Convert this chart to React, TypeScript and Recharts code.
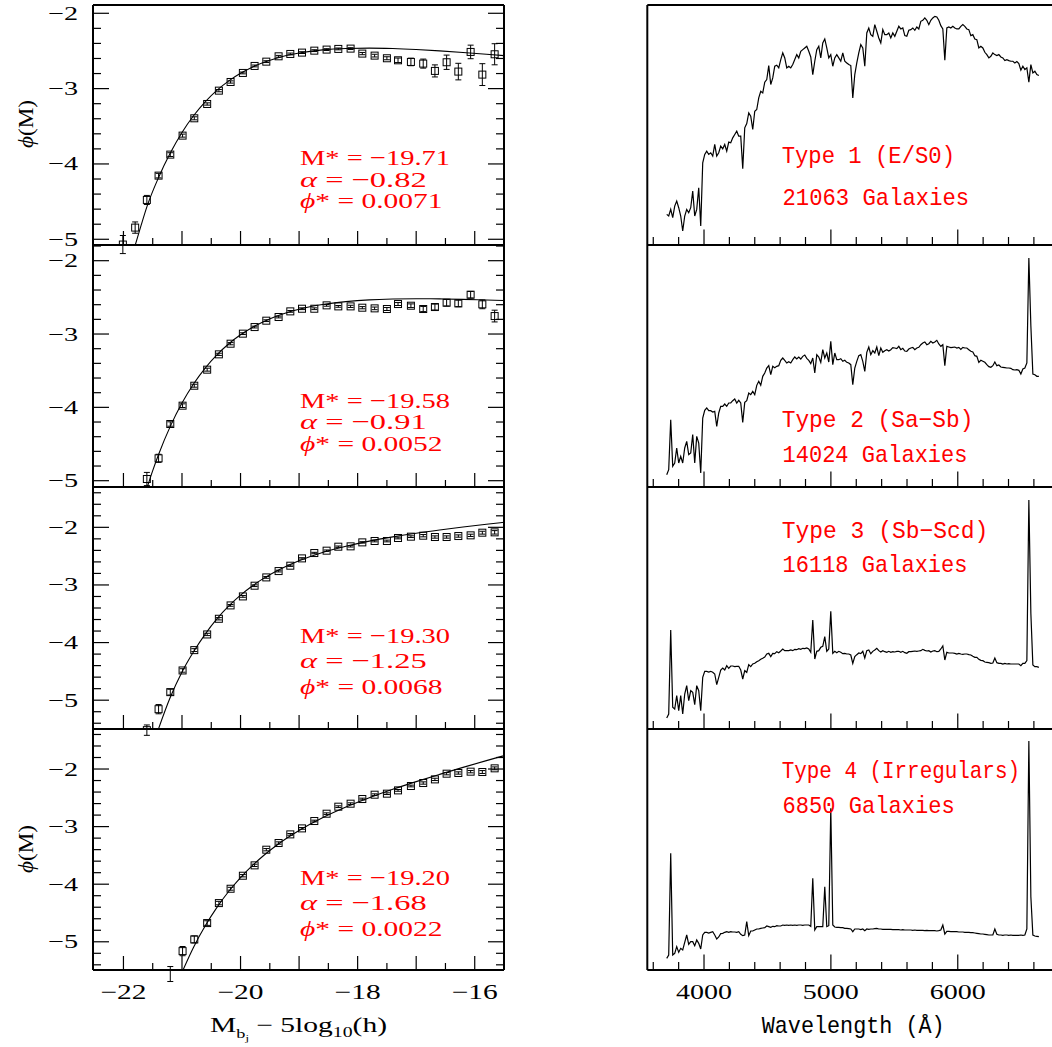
import React from "react";
import { ComposedChart, Line, Scatter, XAxis, YAxis, ErrorBar } from "recharts";

const SERIF = "'Liberation Serif', 'DejaVu Serif', serif";
const MONO = "'Liberation Mono', 'DejaVu Sans Mono', monospace";
const RED = "#ff0000";

// ---------------- Luminosity function data ----------------
const MAG_BINS = [-22.01, -21.8, -21.6, -21.4, -21.2, -20.99, -20.79, -20.57, -20.37, -20.17, -19.96, -19.76, -19.56, -19.35, -19.15, -18.95, -18.74, -18.53, -18.33, -18.12, -17.92, -17.71, -17.5, -17.31, -17.09, -16.88, -16.68, -16.48, -16.28, -16.07, -15.87, -15.66];

const LOGPHI_T1 = [-5.07, -4.845, -4.478, -4.155, -3.876, -3.624, -3.394, -3.204, -3.027, -2.912, -2.792, -2.699, -2.642, -2.571, -2.54, -2.522, -2.496, -2.482, -2.473, -2.469, -2.535, -2.562, -2.597, -2.624, -2.646, -2.668, -2.765, -2.65, -2.774, -2.513, -2.814, -2.544];
const ERR_T1 = [0.12, 0.075, 0.06, 0.03, 0.025, 0.02, 0.02, 0.015, 0.015, 0.015, 0.012, 0.012, 0.012, 0.012, 0.012, 0.012, 0.012, 0.012, 0.012, 0.012, 0.015, 0.018, 0.02, 0.03, 0.05, 0.06, 0.08, 0.095, 0.11, 0.09, 0.145, 0.14];

const LOGPHI_T2 = [null, null, -4.977, -4.695, -4.227, -3.977, -3.705, -3.486, -3.277, -3.132, -2.995, -2.905, -2.818, -2.768, -2.691, -2.655, -2.655, -2.609, -2.623, -2.623, -2.641, -2.65, -2.659, -2.591, -2.614, -2.659, -2.632, -2.573, -2.582, -2.464, -2.595, -2.755];
const ERR_T2 = [null, null, 0.09, 0.055, 0.03, 0.025, 0.02, 0.02, 0.015, 0.015, 0.012, 0.012, 0.012, 0.012, 0.012, 0.012, 0.012, 0.012, 0.012, 0.015, 0.015, 0.018, 0.02, 0.02, 0.025, 0.035, 0.04, 0.045, 0.045, 0.045, 0.06, 0.08];

const LOGPHI_T3 = [null, null, -5.52, -5.156, -4.86, -4.484, -4.131, -3.859, -3.587, -3.355, -3.199, -3.013, -2.869, -2.759, -2.666, -2.539, -2.446, -2.405, -2.336, -2.33, -2.261, -2.237, -2.237, -2.185, -2.162, -2.145, -2.168, -2.168, -2.151, -2.139, -2.093, -2.087];
const ERR_T3 = [null, null, 0.09, 0.08, 0.05, 0.03, 0.025, 0.02, 0.02, 0.015, 0.015, 0.015, 0.015, 0.015, 0.012, 0.012, 0.012, 0.012, 0.012, 0.012, 0.012, 0.015, 0.015, 0.015, 0.015, 0.02, 0.02, 0.02, 0.02, 0.02, 0.025, 0.03];

const LOGPHI_T4 = [null, null, null, null, -5.56, -5.162, -4.959, -4.675, -4.328, -4.079, -3.853, -3.673, -3.401, -3.285, -3.135, -3.031, -2.903, -2.776, -2.654, -2.602, -2.521, -2.446, -2.428, -2.371, -2.295, -2.243, -2.18, -2.081, -2.069, -2.046, -2.052, -1.988];
const ERR_T4 = [null, null, null, null, 0.13, 0.08, 0.06, 0.04, 0.03, 0.025, 0.02, 0.02, 0.02, 0.02, 0.015, 0.015, 0.015, 0.015, 0.015, 0.015, 0.015, 0.015, 0.015, 0.015, 0.015, 0.02, 0.02, 0.02, 0.02, 0.02, 0.025, 0.025];

const FIT_T1_MAG = [-21.84, -21.7, -21.6, -21.4, -21.2, -21.0, -20.8, -20.6, -20.4, -20.2, -20.0, -19.8, -19.6, -19.4, -19.2, -19.0, -18.6, -18.2, -17.8, -17.4, -17.0, -16.6, -16.2, -15.8, -15.5];
const FIT_T1_LOGPHI = [-5.185, -4.82, -4.57, -4.18, -3.856, -3.582, -3.357, -3.172, -3.02, -2.897, -2.796, -2.715, -2.65, -2.599, -2.558, -2.527, -2.486, -2.467, -2.462, -2.468, -2.481, -2.499, -2.52, -2.543, -2.562];

const FIT_T2_MAG = [-21.62, -21.5, -21.4, -21.2, -21.0, -20.8, -20.6, -20.4, -20.2, -20.0, -19.8, -19.6, -19.4, -19.2, -19.0, -18.6, -18.2, -17.8, -17.4, -17.0, -16.6, -16.2, -15.8, -15.5];
const FIT_T2_LOGPHI = [-5.155, -4.862, -4.642, -4.259, -3.941, -3.678, -3.461, -3.281, -3.132, -3.01, -2.91, -2.828, -2.76, -2.706, -2.661, -2.597, -2.558, -2.534, -2.523, -2.519, -2.521, -2.527, -2.536, -2.543];

const FIT_T3_MAG = [-21.42, -21.2, -21.0, -20.8, -20.6, -20.4, -20.2, -20.0, -19.8, -19.6, -19.4, -19.2, -19.0, -18.6, -18.2, -17.8, -17.4, -17.0, -16.6, -16.2, -15.8, -15.5];
const FIT_T3_LOGPHI = [-5.552, -4.95, -4.51, -4.155, -3.848, -3.586, -3.365, -3.177, -3.018, -2.882, -2.766, -2.666, -2.58, -2.438, -2.328, -2.239, -2.166, -2.102, -2.046, -1.995, -1.947, -1.913];

const FIT_T4_MAG = [-21.02, -20.8, -20.6, -20.4, -20.2, -20.0, -19.8, -19.6, -19.4, -19.2, -19.0, -18.6, -18.2, -17.8, -17.4, -17.0, -16.6, -16.2, -15.8, -15.5];
const FIT_T4_LOGPHI = [-5.577, -5.09, -4.718, -4.398, -4.123, -3.885, -3.678, -3.497, -3.336, -3.194, -3.067, -2.847, -2.661, -2.499, -2.353, -2.219, -2.093, -1.971, -1.854, -1.768];

const LF_PARAMS = [
  { mstar: "\u221219.71", alpha: "\u22120.82", phistar: "0.0071" },
  { mstar: "\u221219.58", alpha: "\u22120.91", phistar: "0.0052" },
  { mstar: "\u221219.30", alpha: "\u22121.25", phistar: "0.0068" },
  { mstar: "\u221219.20", alpha: "\u22121.68", phistar: "0.0022" },
];

// ---------------- Composite spectra (relative flux, uniform wavelength grid) ----------------
const WAVE_START = 3706;
const WAVE_STEP = 15.77;

const SPEC_T1 = [
  92, 87, 107, 82, 117, 132, 112, 87, 42, 87,
  107, 97, 112, 162, 87, 107, 172, 57, 247, 272,
  282, 272, 277, 267, 302, 267, 277, 297, 289, 302,
  282, 309, 307, 322, 332, 342, 327, 327, 229, 352,
  365, 397, 387, 347, 402, 407, 442, 462, 457, 489,
  497, 539, 482, 502, 537, 540, 532, 557, 577, 562,
  532, 537, 532, 542, 557, 572, 562, 582, 587, 592,
  597, 582, 565, 512, 552, 587, 597, 562, 607, 619,
  592, 562, 572, 537, 562, 572, 562, 552, 577, 552,
  547, 542, 539, 442, 512, 547, 577, 602, 592, 537,
  637, 652, 632, 627, 662, 642, 622, 607, 647, 632,
  632, 637, 622, 637, 627, 642, 657, 649, 652, 629,
  627, 645, 647, 652, 645, 655, 649, 672, 675, 682,
  675, 662, 675, 682, 687, 685, 675, 659, 649, 555,
  652, 655, 652, 657, 652, 649, 649, 657, 662, 657,
  649, 647, 629, 632, 619, 617, 592, 597, 592, 579,
  572, 562, 567, 577, 572, 569, 572, 565, 562, 554,
  557, 554, 552, 552, 547, 551, 545, 525, 537, 527,
  532, 489, 542, 517, 522, 512, 509,
];

const SPEC_T2 = [
  37, 52, 202, 62, 72, 117, 72, 92, 72, 117,
  137, 97, 102, 157, 72, 152, 132, 42, 207, 230,
  237, 229, 229, 225, 227, 182, 222, 242, 242, 249,
  242, 252, 252, 259, 264, 252, 260, 252, 194, 254,
  259, 282, 277, 287, 277, 305, 317, 305, 332, 342,
  357, 364, 337, 362, 358, 362, 364, 380, 387, 380,
  372, 376, 372, 382, 390, 384, 390, 384, 392, 396,
  386, 380, 370, 387, 342, 397, 390, 374, 412, 387,
  402, 375, 437, 367, 402, 382, 382, 385, 377, 380,
  374, 372, 367, 307, 357, 377, 394, 397, 377, 347,
  404, 420, 397, 409, 402, 420, 394, 417, 404, 409,
  412, 408, 412, 418, 417, 415, 422, 412, 416, 408,
  407, 414, 417, 419, 412, 417, 419, 427, 432, 435,
  427, 430, 437, 432, 435, 440, 429, 422, 427, 364,
  422, 420, 418, 419, 420, 417, 419, 413, 419, 417,
  417, 412, 407, 405, 394, 392, 374, 380, 377, 374,
  367, 361, 359, 364, 375, 364, 366, 360, 359, 358,
  357, 357, 356, 352, 351, 352, 350, 339, 354, 357,
  372, 687, 484, 339, 337, 332, 332,
];

const SPEC_T3 = [
  33, 45, 297, 65, 60, 100, 55, 100, 45, 105,
  130, 85, 115, 110, 73, 130, 115, 55, 155, 173,
  173, 171, 173, 170, 165, 133, 155, 177, 183, 177,
  190, 182, 189, 189, 187, 188, 188, 177, 150, 175,
  170, 193, 187, 195, 197, 202, 205, 209, 212, 216,
  225, 227, 217, 227, 226, 232, 229, 234, 240, 235,
  235, 235, 237, 235, 239, 238, 241, 239, 242, 241,
  243, 240, 230, 327, 210, 233, 235, 245, 248, 277,
  233, 240, 353, 227, 233, 229, 233, 230, 226, 227,
  225, 225, 222, 197, 217, 223, 228, 226, 233, 213,
  235, 237, 226, 233, 237, 242, 235, 231, 235, 232,
  230, 233, 230, 232, 231, 233, 233, 230, 233, 229,
  227, 232, 232, 233, 234, 233, 234, 235, 239, 236,
  234, 235, 231, 234, 235, 232, 233, 240, 249, 207,
  230, 228, 228, 228, 227, 225, 227, 225, 224, 225,
  225, 223, 222, 218, 215, 215, 209, 206, 205, 201,
  200, 199, 197, 198, 213, 199, 197, 197, 195, 197,
  195, 196, 195, 195, 195, 195, 195, 190, 197, 197,
  205, 687, 347, 192, 187, 187, 185,
];

const SPEC_T4 = [
  35, 45, 350, 45, 50, 70, 53, 65, 60, 83,
  105, 77, 85, 85, 73, 90, 80, 63, 105, 113,
  113, 111, 113, 115, 105, 93, 99, 109, 110, 113,
  115, 113, 115, 114, 114, 113, 115, 107, 103, 105,
  145, 103, 117, 117, 120, 123, 123, 125, 126, 127,
  132, 130, 128, 131, 130, 133, 132, 132, 135, 134,
  135, 134, 135, 134, 135, 134, 135, 135, 134, 135,
  135, 135, 131, 275, 120, 130, 130, 130, 130, 250,
  130, 133, 485, 135, 129, 128, 128, 127, 127, 125,
  125, 124, 123, 115, 123, 123, 123, 121, 123, 118,
  123, 122, 123, 123, 124, 125, 123, 123, 122, 122,
  122, 122, 122, 121, 121, 121, 121, 120, 121, 120,
  120, 120, 120, 119, 120, 119, 119, 119, 119, 118,
  119, 118, 118, 118, 118, 117, 118, 120, 135, 108,
  116, 116, 115, 115, 115, 115, 114, 114, 114, 113,
  113, 113, 112, 112, 111, 110, 109, 108, 108, 107,
  106, 105, 105, 105, 123, 107, 105, 105, 104, 105,
  105, 104, 105, 104, 104, 104, 104, 105, 104, 105,
  123, 687, 220, 105, 102, 101, 100,
];

const SPEC_LABELS = [
  ["Type 1 (E/S0)", "21063 Galaxies"],
  ["Type 2 (Sa\u2212Sb)", "14024 Galaxies"],
  ["Type 3 (Sb\u2212Scd)", "16118 Galaxies"],
  ["Type 4 (Irregulars)", "6850 Galaxies"],
];

// ---------------- Layout ----------------
const ROWS = [
  { top: 5, bottom: 245 },
  { top: 245, bottom: 487 },
  { top: 487, bottom: 729 },
  { top: 729, bottom: 970 },
];
const LF_Y_DOMAINS: [number, number][] = [
  [-5.076, -1.89],
  [-5.086, -1.786],
  [-5.5, -1.3],
  [-5.49, -1.305],
];
const LF_X_DOMAIN: [number, number] = [-22.52, -15.5];
const SPEC_X_DOMAIN: [number, number] = [3553, 6753];
const SPEC_Y_MAX = [721, 726, 726, 723];

function range(a: number, b: number, step: number) {
  const out: number[] = [];
  const n = Math.round((b - a) / step);
  for (let i = 0; i <= n; i++) out.push(Math.round((a + i * step) * 1000) / 1000);
  return out;
}
const LF_X_TICKS = range(-22, -16, 0.5);
const LF_Y_TICKS = [range(-5, -2, 0.2), range(-5, -1.8, 0.2), range(-5.4, -1.4, 0.2), range(-5.4, -1.4, 0.2)];
const SPEC_X_TICKS = range(3600, 6600, 200);

const fmtTick = (v: number) => (v < 0 ? "\u2212" + Math.abs(v) : String(v));
const AXIS_LINE = { stroke: "#000", strokeWidth: 2 };

type TickOpts = {
  side: "bottom" | "top" | "left" | "right";
  isMajor: (v: number) => boolean;
  major: number;
  minor: number;
  label?: { offset: number; size: number; width: number; show: (v: number) => boolean };
};

function makeTick(o: TickOpts) {
  return (props: any) => {
    const { x, y, payload } = props;
    const v = payload.value as number;
    const mj = o.isMajor(v);
    const len = mj ? o.major : o.minor;
    let x2 = x;
    let y2 = y;
    if (o.side === "bottom") y2 = y - len;
    if (o.side === "top") y2 = y + len;
    if (o.side === "left") x2 = x + len;
    if (o.side === "right") x2 = x - len;
    let label: any = null;
    if (o.label && o.label.show(v)) {
      const s = fmtTick(v);
      if (o.side === "bottom") {
        label = (
          <text x={x} y={y + o.label.offset} textAnchor="middle" fontFamily={SERIF} fontSize={o.label.size} fill="#000" textLength={o.label.width} lengthAdjust="spacingAndGlyphs">
            {s}
          </text>
        );
      } else if (o.side === "left") {
        label = (
          <text x={x - o.label.offset} y={y + 6.5} textAnchor="end" fontFamily={SERIF} fontSize={o.label.size} fill="#000" textLength={o.label.width} lengthAdjust="spacingAndGlyphs">
            {s}
          </text>
        );
      }
    }
    return (
      <g>
        <line x1={x} y1={y} x2={x2} y2={y2} stroke="#000" strokeWidth={1.2} />
        {label}
      </g>
    );
  };
}

const isInt = (v: number) => Math.abs(v - Math.round(v)) < 1e-6;
const isEven = (v: number) => isInt(v) && Math.round(v) % 2 === 0;
const isThousand = (v: number) => Math.abs(v / 1000 - Math.round(v / 1000)) < 1e-6;

const squareShape = (p: any) => (
  <rect x={p.cx - 3.5} y={p.cy - 3.5} width={7} height={7} fill="none" stroke="#000" strokeWidth={1} />
);

const LF_SERIES = [
  { phi: LOGPHI_T1, err: ERR_T1, fm: FIT_T1_MAG, fv: FIT_T1_LOGPHI },
  { phi: LOGPHI_T2, err: ERR_T2, fm: FIT_T2_MAG, fv: FIT_T2_LOGPHI },
  { phi: LOGPHI_T3, err: ERR_T3, fm: FIT_T3_MAG, fv: FIT_T3_LOGPHI },
  { phi: LOGPHI_T4, err: ERR_T4, fm: FIT_T4_MAG, fv: FIT_T4_LOGPHI },
];
const SPEC_SERIES = [SPEC_T1, SPEC_T2, SPEC_T3, SPEC_T4];

function LFPanel({ idx }: { idx: number }) {
  const s = LF_SERIES[idx];
  const row = ROWS[idx];
  const last = idx === 3;
  const points = MAG_BINS.map((m, i) => ({ m, v: s.phi[i], e: s.err[i] })).filter((d) => d.v !== null);
  const fit = s.fm.map((m, i) => ({ m, v: s.fv[i] }));
  const h = row.bottom - row.top;
  const mb = last ? 45 : 12;
  const dom = LF_Y_DOMAINS[idx];
  const yt = LF_Y_TICKS[idx];
  return (
    <div style={{ position: "absolute", left: 0, top: row.top - 2 }}>
      <ComposedChart width={510} height={h + 2 + mb} margin={{ top: 1, right: 5, bottom: mb - 1, left: 0 }}>
        <XAxis
          type="number"
          dataKey="m"
          domain={LF_X_DOMAIN}
          allowDataOverflow
          ticks={LF_X_TICKS}
          interval={0}
          height={1}
          tickSize={0}
          tickMargin={0}
          tickLine={false}
          axisLine={AXIS_LINE}
          tick={makeTick({
            side: "bottom",
            isMajor: isInt,
            major: 14,
            minor: 7,
            label: last ? { offset: 29, size: 21, width: 46, show: isEven } : undefined,
          })}
        />
        <XAxis
          xAxisId="top"
          orientation="top"
          type="number"
          domain={LF_X_DOMAIN}
          allowDataOverflow
          ticks={LF_X_TICKS}
          interval={0}
          height={1}
          tickSize={0}
          tickMargin={0}
          tickLine={false}
          axisLine={AXIS_LINE}
          tick={makeTick({ side: "top", isMajor: isInt, major: 14, minor: 7 })}
        />
        <YAxis
          type="number"
          dataKey="v"
          domain={dom}
          allowDataOverflow
          ticks={yt}
          interval={0}
          width={93}
          tickSize={0}
          tickMargin={0}
          tickLine={false}
          axisLine={AXIS_LINE}
          tick={makeTick({ side: "left", isMajor: isInt, major: 16, minor: 8, label: { offset: 15, size: 19, width: 30, show: isInt } })}
        />
        <YAxis
          yAxisId="right"
          orientation="right"
          type="number"
          domain={dom}
          allowDataOverflow
          ticks={yt}
          interval={0}
          width={1}
          tickSize={0}
          tickMargin={0}
          tickLine={false}
          axisLine={AXIS_LINE}
          tick={makeTick({ side: "right", isMajor: isInt, major: 16, minor: 8 })}
        />
        <Line data={fit} dataKey="v" type="monotone" stroke="#000" strokeWidth={1.1} dot={false} isAnimationActive={false} />
        <Scatter data={points} shape={squareShape} isAnimationActive={false}>
          <ErrorBar dataKey="e" direction="y" width={3} stroke="#000" strokeWidth={1} isAnimationActive={false} />
        </Scatter>
      </ComposedChart>
    </div>
  );
}

function SpecPanel({ idx }: { idx: number }) {
  const row = ROWS[idx];
  const last = idx === 3;
  const data = SPEC_SERIES[idx].map((f, i) => ({ w: WAVE_START + i * WAVE_STEP, f }));
  const h = row.bottom - row.top;
  const mb = last ? 45 : 12;
  return (
    <div style={{ position: "absolute", left: 600, top: row.top - 2 }}>
      <ComposedChart width={455.3} height={h + 2 + mb} margin={{ top: 1, right: 2, bottom: mb - 1, left: 46.3 }}>
        <XAxis
          type="number"
          dataKey="w"
          domain={SPEC_X_DOMAIN}
          allowDataOverflow
          ticks={SPEC_X_TICKS}
          interval={0}
          height={1}
          tickSize={0}
          tickMargin={0}
          tickLine={false}
          axisLine={AXIS_LINE}
          tick={makeTick({
            side: "bottom",
            isMajor: isThousand,
            major: 15.5,
            minor: 8,
            label: last ? { offset: 29, size: 22, width: 56, show: isThousand } : undefined,
          })}
        />
        <XAxis xAxisId="top" orientation="top" type="number" domain={SPEC_X_DOMAIN} allowDataOverflow height={1} tick={false} tickLine={false} axisLine={AXIS_LINE} />
        <YAxis type="number" domain={[0, SPEC_Y_MAX[idx]]} allowDataOverflow width={1} tick={false} tickLine={false} axisLine={AXIS_LINE} />
        <Line data={data} dataKey="f" type="linear" stroke="#000" strokeWidth={1.2} dot={false} isAnimationActive={false} />
      </ComposedChart>
    </div>
  );
}

const PARAM_POS = [
  { y: [165, 186.5, 208] },
  { y: [407.7, 429, 450.7] },
  { y: [643.3, 668.3, 694] },
  { y: [885, 910, 935.7] },
];
const SPEC_LABEL_POS = [
  { y: [163.3, 205], w: [173.3, 186.7] },
  { y: [426.7, 461.7], w: [191.7, 185] },
  { y: [538.3, 571.7], w: [206.7, 185] },
  { y: [778.3, 813.3], w: [238.3, 172.3] },
];

function Overlay() {
  return (
    <svg width={1052} height={1047} style={{ position: "absolute", left: 0, top: 0, pointerEvents: "none" }}>
      {LF_PARAMS.map((p, i) => {
        const ys = PARAM_POS[i].y;
        return (
          <g key={i} fill={RED} fontFamily={SERIF} fontSize={22}>
            <text x={300} y={ys[0]} textLength={150} lengthAdjust="spacingAndGlyphs">
              {"M* = " + p.mstar}
            </text>
            <text x={300} y={ys[1]} textLength={126.7} lengthAdjust="spacingAndGlyphs">
              <tspan fontStyle="italic">{"\u03B1"}</tspan>
              {" = " + p.alpha}
            </text>
            <text x={300} y={ys[2]} textLength={142.5} lengthAdjust="spacingAndGlyphs">
              <tspan fontStyle="italic">{"\u03D5"}</tspan>
              {"* = " + p.phistar}
            </text>
          </g>
        );
      })}
      {SPEC_LABELS.map((l, i) => (
        <g key={"s" + i} fill={RED} fontFamily={MONO} fontSize={24}>
          <text x={781.7} y={SPEC_LABEL_POS[i].y[0]} textLength={SPEC_LABEL_POS[i].w[0]} lengthAdjust="spacingAndGlyphs">
            {l[0]}
          </text>
          <text x={782.5} y={SPEC_LABEL_POS[i].y[1]} textLength={SPEC_LABEL_POS[i].w[1]} lengthAdjust="spacingAndGlyphs">
            {l[1]}
          </text>
        </g>
      ))}
      {[124, 849].map((cy, i) => (
        <text key={"yl" + i} transform={`translate(33, ${cy}) rotate(-90)`} textAnchor="middle" fontFamily={SERIF} fontSize={21} fill="#000" textLength={48} lengthAdjust="spacingAndGlyphs">
          <tspan fontStyle="italic">{"\u03D5"}</tspan>
          {"(M)"}
        </text>
      ))}
      <text x={210} y={1031.5} fontFamily={SERIF} fontSize={21} fill="#000" textLength={177} lengthAdjust="spacingAndGlyphs">
        M<tspan dy={6} fontSize={13}>b</tspan>
        <tspan dy={3} fontSize={9}>j</tspan>
        <tspan dy={-9}>{" \u2212 5log"}</tspan>
        <tspan dy={5} fontSize={14}>10</tspan>
        <tspan dy={-5}>(h)</tspan>
      </text>
      <text x={761.7} y={1033} fontFamily={MONO} fontSize={24} fill="#000" textLength={183} lengthAdjust="spacingAndGlyphs">
        Wavelength (Å)
      </text>
    </svg>
  );
}

export default function App() {
  return (
    <div style={{ position: "absolute", left: 0, top: 0, width: 1052, height: 1047, overflow: "hidden", background: "#fff" }}>
      {[0, 1, 2, 3].map((i) => (
        <LFPanel key={"lf" + i} idx={i} />
      ))}
      {[0, 1, 2, 3].map((i) => (
        <SpecPanel key={"sp" + i} idx={i} />
      ))}
      <Overlay />
    </div>
  );
}
